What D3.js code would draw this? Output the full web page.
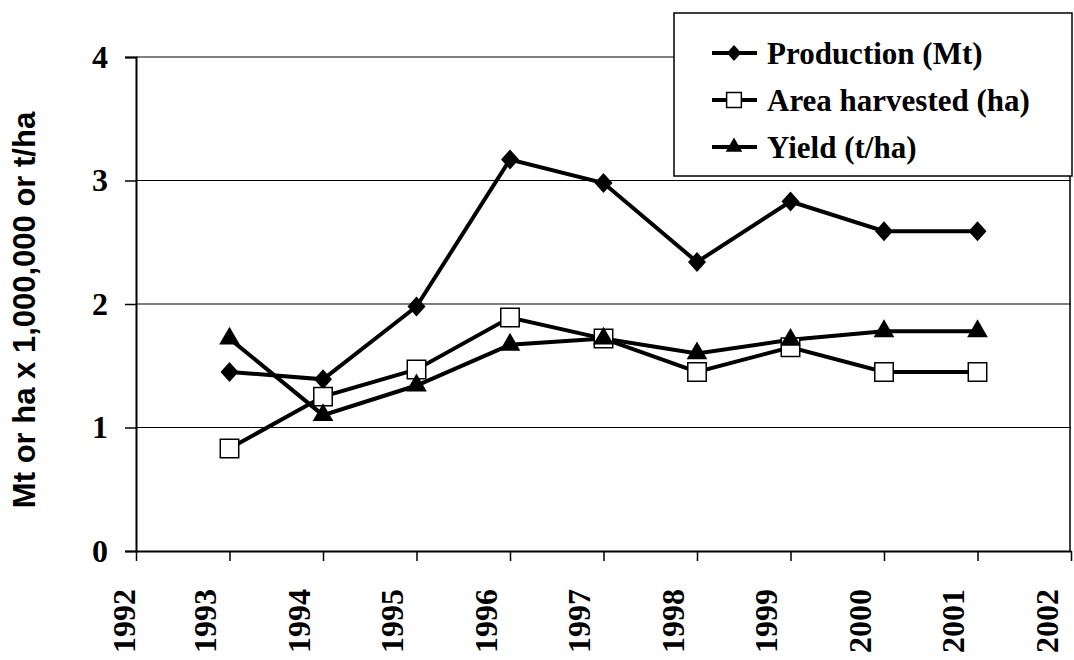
<!DOCTYPE html>
<html lang="en">
<head>
<meta charset="UTF-8">
<title>Production, area and yield</title>
<script src="https://d3js.org/d3.v7.min.js"></script>
<style>
  body { margin: 0; background: #fff; }
  .tick text { font-family: "Liberation Serif", "Times New Roman", serif; font-weight: bold; font-size: 32px; fill: #000; }
  .legend text { font-family: "Liberation Serif", "Times New Roman", serif; font-weight: bold; font-size: 31px; fill: #000; }
  .ytitle { font-family: "Liberation Sans", Arial, sans-serif; font-weight: bold; font-size: 31px; fill: #000; }
</style>
</head>
<body>
<svg width="1074" height="660"></svg>
<script>
// data
const years = [1993, 1994, 1995, 1996, 1997, 1998, 1999, 2000, 2001];
const production = [1.45, 1.39, 1.98, 3.17, 2.98, 2.34, 2.83, 2.59, 2.59];
const area = [0.83, 1.25, 1.47, 1.89, 1.72, 1.45, 1.65, 1.45, 1.45];
const yieldT = [1.72, 1.10, 1.34, 1.67, 1.72, 1.60, 1.71, 1.78, 1.78];
const xTicks = d3.range(1992, 2003);
const yTicks = [0, 1, 2, 3, 4];

const margin = { top: 57, right: 3, bottom: 109, left: 136 };
const width = 1074, height = 660;

const svg = d3.select("svg");
const g = svg.append("g");

const x = d3.scaleLinear().domain([1992, 2002]).range([margin.left, width - margin.right]);
const y = d3.scaleLinear().domain([0, 4]).range([height - margin.bottom, margin.top]);

// gridlines
g.append("g")
  .selectAll("line")
  .data(yTicks.slice(1))
  .join("line")
  .attr("x1", x(1992)).attr("x2", x(2002))
  .attr("y1", d => y(d)).attr("y2", d => y(d))
  .attr("stroke", "#000").attr("stroke-width", 1.2);

// right border
g.append("line")
  .attr("x1", x(2002) - 1).attr("x2", x(2002) - 1)
  .attr("y1", y(4)).attr("y2", y(0))
  .attr("stroke", "#000").attr("stroke-width", 1.5);

// axes
const yAxis = g.append("g")
  .attr("transform", `translate(${x(1992)},0)`)
  .call(d3.axisLeft(y).tickValues(yTicks).tickFormat(d3.format("d")).tickSize(11).tickPadding(17));
yAxis.select(".domain").attr("stroke-width", 2);
yAxis.selectAll(".tick line").attr("stroke-width", 1.5);

const xAxis = g.append("g")
  .attr("transform", `translate(0,${y(0)})`)
  .call(d3.axisBottom(x).tickValues(xTicks).tickFormat(d3.format("d")).tickSize(10).tickSizeOuter(0));
xAxis.select(".domain").attr("stroke-width", 2);
xAxis.selectAll(".tick line").attr("stroke-width", 1.5);
// labels sit a little left of their ticks, the first one less so
xAxis.selectAll(".tick text")
  .attr("transform", "rotate(-90)")
  .attr("text-anchor", "end")
  .attr("x", -38)
  .attr("y", d => d === 1992 ? -13 : -25)
  .attr("dy", "0.35em");

// y title
svg.append("text")
  .attr("class", "ytitle")
  .attr("transform", `translate(35,${(y(0) + y(4)) / 2 + 6}) rotate(-90)`)
  .attr("text-anchor", "middle")
  .text("Mt or ha x 1,000,000 or t/ha");

const line = d3.line().x((d, i) => x(years[i])).y(d => y(d));

const series = [
  { name: "Production (Mt)", values: production, symbol: d3.symbolDiamond, fill: "#000" },
  { name: "Area harvested (ha)", values: area, symbol: d3.symbolSquare, fill: "#fff" },
  { name: "Yield (t/ha)", values: yieldT, symbol: d3.symbolTriangle, fill: "#000" }
];

function marker(sel, s, k) {
  const shape = s.symbol === d3.symbolDiamond
    ? `M0,${-10 * k}L${9 * k},0L0,${10 * k}L${-9 * k},0Z`
    : d3.symbol().type(s.symbol).size((s.symbol === d3.symbolSquare ? 340 : 185) * k * k)();
  sel.append("path")
    .attr("d", shape)
    .attr("fill", s.fill)
    .attr("stroke", s.fill === "#fff" ? "#000" : "none")
    .attr("stroke-width", 1.5);
}

series.forEach(s => {
  g.append("path")
    .datum(s.values)
    .attr("fill", "none")
    .attr("stroke", "#000")
    .attr("stroke-width", 4)
    .attr("d", line);
});
series.forEach(s => {
  g.append("g")
    .selectAll("g")
    .data(s.values)
    .join("g")
    .attr("transform", (d, i) => `translate(${x(years[i])},${y(d)})`)
    .each(function () { marker(d3.select(this), s, 1); });
});

// legend
const legend = svg.append("g").attr("class", "legend");
legend.append("rect")
  .attr("x", 674).attr("y", 13)
  .attr("width", 398).attr("height", 163)
  .attr("fill", "#fff").attr("stroke", "#000").attr("stroke-width", 1.5);

series.forEach((s, i) => {
  const row = legend.append("g").attr("transform", `translate(734,${53 + i * 47})`);
  row.append("line").attr("x1", -22).attr("x2", 23).attr("stroke", "#000").attr("stroke-width", 4);
  marker(row, s, 0.8);
  row.append("text").attr("x", 33).attr("dy", "0.35em").text(s.name);
});
</script>
</body>
</html>
